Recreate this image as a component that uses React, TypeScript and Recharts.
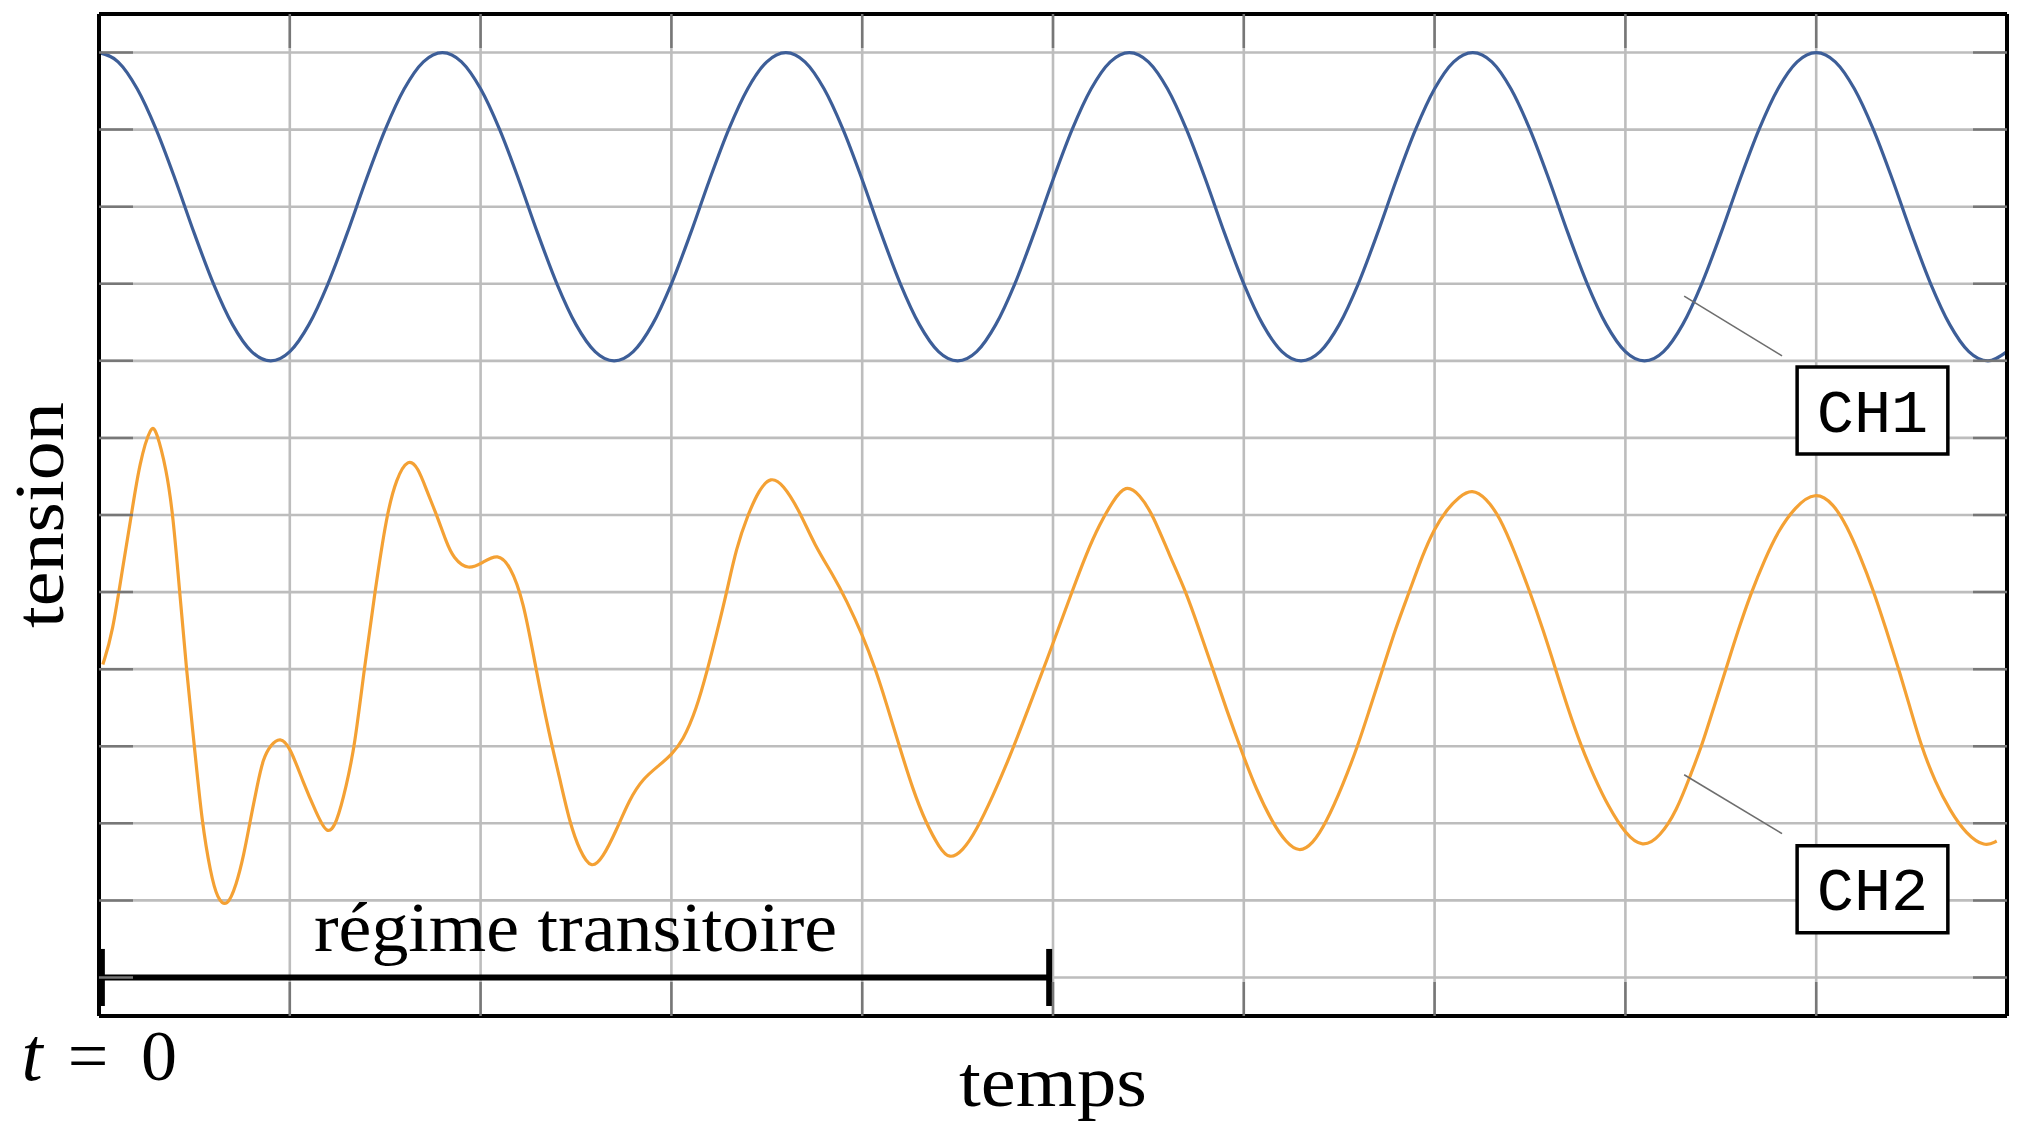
import {
  LineChart,
  Line,
  XAxis,
  YAxis,
  CartesianGrid,
  ReferenceLine,
  ReferenceArea,
} from 'recharts'

// grid divisions (oscilloscope screen)
const timeTicks = [0, 1, 2, 3, 4, 5, 6, 7, 8, 9, 10]
const voltTicks = [0, 1, 2, 3, 4, 5, 6, 7, 8, 9, 10, 11, 12]
const timeDomain = [0, 10]
const voltDomain = [-0.5, 12.5]

// CH1 read every 0.1 division
const ch1Volts = [
  12.0, 11.88, 11.53, 11.0, 10.35, 9.65, 9.0, 8.47, 8.12, 8.0, 8.12, 8.47, 9.0, 9.65, 10.35, 11.0, 11.53, 11.88,
  12.0, 11.88, 11.53, 11.0, 10.35, 9.65, 9.0, 8.47, 8.12, 8.0, 8.12, 8.47, 9.0, 9.65, 10.35, 11.0, 11.53, 11.88,
  12.0, 11.88, 11.53, 11.0, 10.35, 9.65, 9.0, 8.47, 8.12, 8.0, 8.12, 8.47, 9.0, 9.65, 10.35, 11.0, 11.53, 11.88,
  12.0, 11.88, 11.53, 11.0, 10.35, 9.65, 9.0, 8.47, 8.12, 8.0, 8.12, 8.47, 9.0, 9.65, 10.35, 11.0, 11.53, 11.88,
  12.0, 11.88, 11.53, 11.0, 10.35, 9.65, 9.0, 8.47, 8.12, 8.0, 8.12, 8.47, 9.0, 9.65, 10.35, 11.0, 11.53, 11.88,
  12.0, 11.88, 11.53, 11.0, 10.35, 9.65, 9.0, 8.47, 8.12, 8.0, 8.12,
]

// CH2 read at the points where the trace bends
const ch2Times = [
  0.02, 0.07, 0.126, 0.17, 0.213, 0.274, 0.3, 0.353, 0.388, 0.423, 0.458, 0.5, 0.54, 0.585, 0.62, 0.67,
  0.72, 0.76, 0.79, 0.83, 0.86, 0.9, 0.95, 1.0, 1.07, 1.14, 1.196, 1.245, 1.297, 1.34, 1.39, 1.446,
  1.507, 1.559, 1.62, 1.672, 1.72, 1.77, 1.82, 1.857, 1.935, 2.014, 2.09, 2.154, 2.224, 2.29, 2.36,
  2.415, 2.468, 2.52, 2.58, 2.64, 2.71, 2.78, 2.85, 2.94, 3.0, 3.06, 3.13, 3.19, 3.236, 3.29, 3.34,
  3.4, 3.46, 3.52, 3.585, 3.67, 3.75, 3.85, 3.916, 4.0, 4.07, 4.126, 4.195, 4.265, 4.335, 4.405,
  4.457, 4.527, 4.597, 4.684, 4.77, 4.876, 4.974, 5.035, 5.096, 5.175, 5.244, 5.314, 5.38, 5.454,
  5.524, 5.61, 5.698, 5.768, 5.838, 5.907, 5.995, 6.065, 6.152, 6.222, 6.29, 6.36, 6.43, 6.518,
  6.597, 6.658, 6.728, 6.797, 6.867, 6.937, 6.998, 7.06, 7.13, 7.196, 7.27, 7.34, 7.42, 7.5, 7.57,
  7.634, 7.696, 7.768, 7.84, 7.91, 8.0, 8.09, 8.18, 8.27, 8.34, 8.4, 8.464, 8.527, 8.59, 8.66, 8.73,
  8.8, 8.89, 8.996, 9.09, 9.16, 9.23, 9.3, 9.366, 9.43, 9.49, 9.55, 9.625, 9.7, 9.786, 9.884, 9.946,
]
const ch2Volts = [
  4.06, 4.45, 5.35, 6.0, 6.69, 7.18, 7.1, 6.6, 6.0, 5.0, 4.0, 3.0, 2.0, 1.35, 1.02, 0.9,
  1.2, 1.6, 2.0, 2.5, 2.84, 3.02, 3.12, 3.0, 2.53, 2.13, 1.84, 1.99, 2.49, 3.0, 4.0, 5.0,
  6.0, 6.48, 6.74, 6.62, 6.3, 6.0, 5.65, 5.44, 5.28, 5.39, 5.5, 5.35, 4.9, 4.0, 3.15,
  2.58, 2.0, 1.64, 1.4, 1.55, 1.9, 2.31, 2.58, 2.76, 2.89, 3.07, 3.47, 4.0, 4.45, 5.0, 5.57,
  6.0, 6.33, 6.5, 6.4, 6.06, 5.61, 5.21, 4.9, 4.45, 4.0, 3.56, 3.0, 2.44, 2.0, 1.68,
  1.53, 1.64, 1.9, 2.35, 2.84, 3.52, 4.16, 4.57, 4.98, 5.5, 5.88, 6.18, 6.4, 6.27,
  6.0, 5.48, 5.0, 4.5, 4.0, 3.49, 2.89, 2.44, 2.0, 1.75, 1.62, 1.73, 2.0, 2.49,
  3.0, 3.47, 4.0, 4.54, 5.0, 5.48, 5.82, 6.06, 6.24, 6.34, 6.22, 5.98, 5.52, 5.0, 4.5,
  4.0, 3.51, 3.0, 2.58, 2.22, 1.86, 1.68, 1.82, 2.17, 2.62, 3.0, 3.51, 4.0, 4.5, 5.0, 5.42,
  5.79, 6.11, 6.31, 6.15, 5.86, 5.47, 5.02, 4.52, 4.02, 3.52, 3.0, 2.53, 2.17, 1.86, 1.69, 1.77,
]

// transient span and callouts (in grid divisions)
const transientStart = 0.015
const transientEnd = 4.98
const transientCap = 0.37
const ch1Box = { x1: 8.9, x2: 9.69, y1: 6.79, y2: 7.92 }
const ch2Box = { x1: 8.9, x2: 9.69, y1: 0.58, y2: 1.71 }
const ch1Leader = [{ x: 8.308, y: 8.84 }, { x: 8.821, y: 8.065 }]
const ch2Leader = [{ x: 8.308, y: 2.63 }, { x: 8.821, y: 1.866 }]

const ch1Data = ch1Volts.map((v, i) => ({ t: i / 10, v }))
const ch2Data = ch2Times.map((t, i) => ({ t, v: ch2Volts[i] }))

const SERIF = "'Liberation Serif', 'DejaVu Serif', serif"
const MONO = "'Liberation Mono', 'DejaVu Sans Mono', monospace"
const BLUE = '#3d5e98'
const ORANGE = '#f4a134'
const GRID = '#bdbdbd'
const TICK = '#777777'

const noTickLabel = () => <g />

function boxOf(props: any) {
  const vb = props?.viewBox ?? props ?? {}
  return { x: vb.x ?? 0, y: vb.y ?? 0, width: vb.width ?? 0, height: vb.height ?? 0 }
}

function ChannelLabel(props: any, text: string) {
  const { x, y, width, height } = boxOf(props)
  return (
    <text
      x={x + width / 2}
      y={y + height / 2 + 21}
      textAnchor="middle"
      fontFamily={MONO}
      fontSize={62}
      fill="#000"
    >
      {text}
    </text>
  )
}

function TransientLabel(props: any) {
  const { x, y, width } = boxOf(props)
  return (
    <text
      x={x + width / 2}
      y={y - 26}
      textAnchor="middle"
      fontFamily={SERIF}
      fontSize={70}
      textLength={523}
      lengthAdjust="spacingAndGlyphs"
      fill="#000"
    >
      régime transitoire
    </text>
  )
}

export default function App() {
  const axisLine = { stroke: '#000', strokeWidth: 4 }
  const tickLine = { stroke: TICK, strokeWidth: 2.5 }

  return (
    <div style={{ position: 'absolute', left: 0, top: 0, width: 2024, height: 1128, background: '#fff' }}>
      <LineChart width={2024} height={1128} margin={{ top: 14, right: 17, bottom: 112, left: 99 }}>
        <CartesianGrid
          stroke={GRID}
          strokeWidth={2.6}
          horizontalValues={voltTicks}
          verticalValues={timeTicks}
        />
        <XAxis
          type="number"
          dataKey="t"
          domain={timeDomain}
          ticks={timeTicks}
          interval={0}
          allowDataOverflow
          orientation="bottom"
          mirror
          tick={noTickLabel}
          tickSize={34}
          tickLine={tickLine}
          axisLine={axisLine}
        />
        <XAxis
          xAxisId="top"
          type="number"
          dataKey="t"
          domain={timeDomain}
          ticks={timeTicks}
          interval={0}
          allowDataOverflow
          orientation="top"
          mirror
          tick={noTickLabel}
          tickSize={34}
          tickLine={tickLine}
          axisLine={axisLine}
        />
        <YAxis
          type="number"
          domain={voltDomain}
          ticks={voltTicks}
          interval={0}
          allowDataOverflow
          orientation="left"
          mirror
          tick={noTickLabel}
          tickSize={34}
          tickLine={tickLine}
          axisLine={axisLine}
        />
        <YAxis
          yAxisId="right"
          type="number"
          domain={voltDomain}
          ticks={voltTicks}
          interval={0}
          allowDataOverflow
          orientation="right"
          mirror
          tick={noTickLabel}
          tickSize={34}
          tickLine={tickLine}
          axisLine={axisLine}
        />

        <Line
          data={ch1Data}
          dataKey="v"
          type="monotone"
          stroke={BLUE}
          strokeWidth={3.2}
          dot={false}
          isAnimationActive={false}
        />
        <Line
          data={ch2Data}
          dataKey="v"
          type="basis"
          stroke={ORANGE}
          strokeWidth={3.2}
          dot={false}
          isAnimationActive={false}
        />

        {/* transient span */}
        <ReferenceLine
          segment={[{ x: transientStart, y: 0 }, { x: transientEnd, y: 0 }]}
          stroke="#000"
          strokeWidth={6}
          label={TransientLabel}
        />
        <ReferenceLine
          segment={[{ x: transientStart, y: -transientCap }, { x: transientStart, y: transientCap }]}
          stroke="#000"
          strokeWidth={6}
        />
        <ReferenceLine
          segment={[{ x: transientEnd, y: -transientCap }, { x: transientEnd, y: transientCap }]}
          stroke="#000"
          strokeWidth={6}
        />

        {/* channel callouts */}
        <ReferenceLine segment={ch1Leader} stroke="#6e6e6e" strokeWidth={1.6} />
        <ReferenceLine segment={ch2Leader} stroke="#6e6e6e" strokeWidth={1.6} />
        <ReferenceArea
          {...ch1Box}
          fill="#fff"
          fillOpacity={1}
          stroke="#000"
          strokeWidth={3.5}
          label={(p: any) => ChannelLabel(p, 'CH1')}
        />
        <ReferenceArea
          {...ch2Box}
          fill="#fff"
          fillOpacity={1}
          stroke="#000"
          strokeWidth={3.5}
          label={(p: any) => ChannelLabel(p, 'CH2')}
        />
      </LineChart>

      {/* axis titles */}
      <svg
        width={2024}
        height={1128}
        style={{ position: 'absolute', left: 0, top: 0, pointerEvents: 'none' }}
      >
        <text
          transform="translate(63,515) rotate(-90)"
          textAnchor="middle"
          fontFamily={SERIF}
          fontSize={70}
          textLength={226}
          lengthAdjust="spacingAndGlyphs"
        >
          tension
        </text>
        <text x={1053} y={1106} textAnchor="middle" fontFamily={SERIF} fontSize={72} textLength={188} lengthAdjust="spacingAndGlyphs">
          temps
        </text>
        <text x={32} y={1080} textAnchor="middle" fontFamily={SERIF} fontSize={76} fontStyle="italic">
          t
        </text>
        <text x={88} y={1080} textAnchor="middle" fontFamily={SERIF} fontSize={72}>
          =
        </text>
        <text x={159} y={1080} textAnchor="middle" fontFamily={SERIF} fontSize={72}>
          0
        </text>
      </svg>
    </div>
  )
}
